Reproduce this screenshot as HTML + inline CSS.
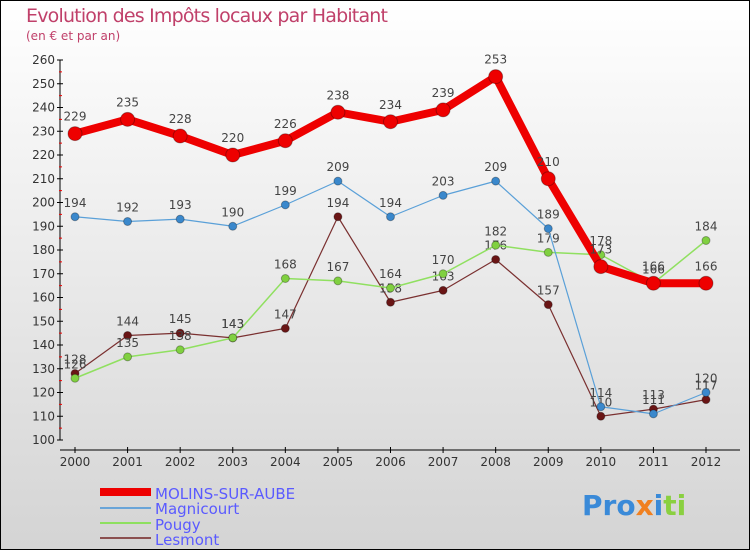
<!DOCTYPE html>
<html><head><meta charset="utf-8"><style>
body{margin:0}
#c{width:750px;height:550px;position:relative;overflow:hidden}
svg text{font-family:"DejaVu Sans","Liberation Sans",sans-serif}
</style></head><body>
<div id="c">
<svg id="s" width="750" height="550" xmlns="http://www.w3.org/2000/svg">
<defs><linearGradient id="bg" x1="0" y1="0" x2="0" y2="1"><stop offset="0" stop-color="#ffffff"/><stop offset="1" stop-color="#d4d4d4"/></linearGradient></defs>
<rect x="0.5" y="0.5" width="749" height="549" fill="url(#bg)" stroke="#000"/>
<text x="26" y="22" font-size="19" fill="#c0406a" textLength="362">Evolution des Impôts locaux par Habitant</text>
<text x="26" y="40" font-size="12" fill="#c0406a">(en € et par an)</text>
<g id="axes"></g><g id="series"></g>
<g>
<rect x="100" y="488" width="51" height="8" fill="#e00"/>
<text x="155" y="499" font-size="15" fill="#5a5aff">MOLINS-SUR-AUBE</text>
<line x1="100" y1="508" x2="151" y2="508" stroke="#6aa5d8" stroke-width="2"/>
<text x="155" y="514" font-size="15" fill="#5a5aff">Magnicourt</text>
<line x1="100" y1="523" x2="151" y2="523" stroke="#8ee060" stroke-width="2"/>
<text x="155" y="530" font-size="15" fill="#5a5aff">Pougy</text>
<line x1="100" y1="538" x2="151" y2="538" stroke="#8b5050" stroke-width="2"/>
<text x="155" y="545" font-size="15" fill="#5a5aff">Lesmont</text>
</g>
<text x="582" y="515" font-size="28" font-weight="bold"><tspan fill="#3a8ad8">Pro</tspan><tspan fill="#f08020">x</tspan><tspan fill="#3a8ad8">i</tspan><tspan fill="#8ad040">ti</tspan></text>
</svg></div>
<script>
const years=[2000,2001,2002,2003,2004,2005,2006,2007,2008,2009,2010,2011,2012];
const molins=[229,235,228,220,226,238,234,239,253,210,173,166,166];
const magnicourt=[194,192,193,190,199,209,194,203,209,189,114,111,120];
const pougy=[126,135,138,143,168,167,164,170,182,179,178,166,184];
const lesmont=[128,144,145,143,147,194,158,163,176,157,110,113,117];
const yTicks=[100,110,120,130,140,150,160,170,180,190,200,210,220,230,240,250,260];
const NS="http://www.w3.org/2000/svg";
const X=i=>75+i*(706-75)/(years.length-1);
const Y=v=>440-(v-100)*(380/160);
function el(t,a,p){const e=document.createElementNS(NS,t);for(const k in a)e.setAttribute(k,a[k]);p.appendChild(e);return e;}
const ax=document.getElementById('axes');
let yl=el('line',{x1:60,y1:60,x2:60,y2:440,stroke:'#000'},ax);


yTicks.forEach((v,i)=>{
 el('line',{x1:57,x2:63,y1:Y(v),y2:Y(v),stroke:'#000'},ax);
 if(i<yTicks.length-1)el('line',{x1:59,x2:62,y1:Y(v+5),y2:Y(v+5),stroke:'#e00'},ax);
 const t=el('text',{x:55,y:Y(v)+4,'font-size':12,fill:'#333','text-anchor':'end'},ax);t.textContent=v;
 
 
});
let xl=el('line',{x1:60,y1:450,x2:740,y2:450,stroke:'#000'},ax);


years.forEach((y,i)=>{
 el('line',{x1:X(i),x2:X(i),y1:447,y2:453,stroke:'#000'},ax);
 const t=el('text',{x:X(i),y:466,'font-size':12,fill:'#333','text-anchor':'middle'},ax);t.textContent=y;
 
 
});
const sg=document.getElementById('series');
function draw(data,name,color,w,r,dot){
 const g=el('g',{},sg);
 
 
 el('polyline',{points:data.map((v,i)=>X(i)+','+Y(v)).join(' '),fill:'none',stroke:color,'stroke-width':w,'stroke-linejoin':'round'},g);
 data.forEach((v,i)=>{
  const c=el('circle',{cx:X(i),cy:Y(v),r:r,fill:dot,stroke:'rgba(0,0,0,0.3)'},g);
  
  
  const t=el('text',{x:X(i),y:Y(v)-(r+6),'font-size':12,fill:'#444','text-anchor':'middle'},g);t.textContent=v;
  
  
 });
}
draw(lesmont,'lesmont','#7a3030',1.2,4,'#6a1515');
draw(pougy,'pougy','#90e060',1.5,4,'#80d040');
draw(magnicourt,'magnicourt','#5aa0d8',1.2,4,'#3a88cc');
draw(molins,'molins','#ee0000',8,7,'#ee0000');
</script>
</body></html>
